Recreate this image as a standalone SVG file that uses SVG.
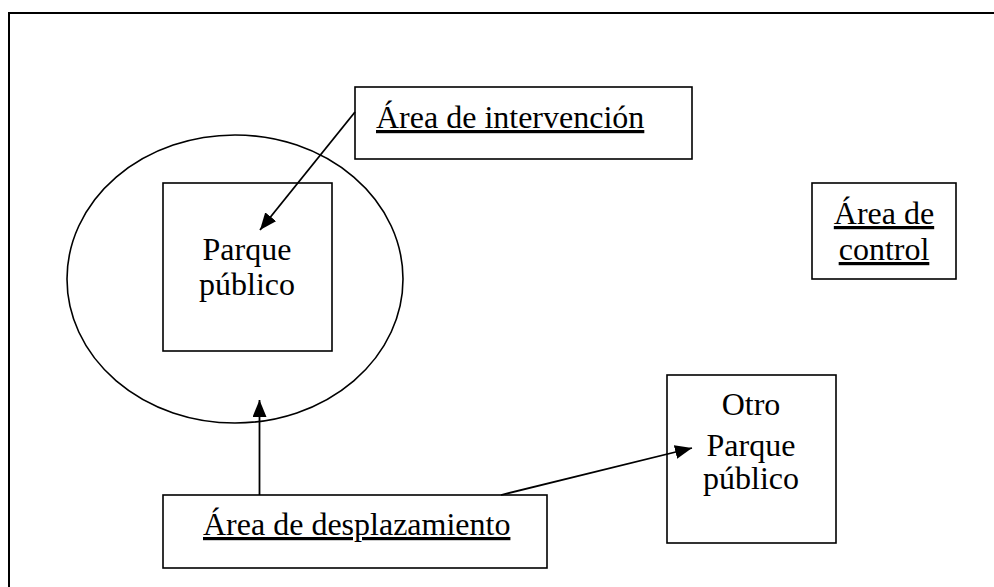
<svg xmlns="http://www.w3.org/2000/svg" width="994" height="587" viewBox="0 0 994 587">
<style>
.box{fill:#fff;stroke:#000;stroke-width:1.6}
.t{font-family:"Liberation Serif","Times New Roman",serif;font-size:32px;fill:#000}
.c{text-anchor:middle}
.u{text-decoration:underline}
.ln{fill:none;stroke:#000;stroke-width:1.8}
</style>
<defs>
<marker id="ah" markerUnits="userSpaceOnUse" markerWidth="18" markerHeight="14" refX="17" refY="7" orient="auto">
<path d="M0,0 L17,7 L0,14 z" fill="#000"/>
</marker>
</defs>
<rect width="994" height="587" fill="#fff"/>
<g id="frame"><path d="M9,587 L9,13 L994,13" fill="none" stroke="#000" stroke-width="2"/></g>
<g id="intervencion-ellipse"><ellipse cx="235" cy="279" rx="168" ry="144" fill="none" stroke="#000" stroke-width="1.6"/></g>
<g id="parque"><rect class="box" x="163" y="183" width="169" height="168"/>
<text class="t c" x="247" y="260">Parque</text><text class="t c" x="247" y="295">público</text></g>
<g id="area-intervencion"><rect class="box" x="355" y="87" width="337" height="72"/>
<text class="t u" x="376" y="128">Área de intervención</text></g>
<g id="area-control"><rect class="box" x="812" y="183" width="144" height="96"/>
<text class="t c u" x="884" y="224">Área de</text><text class="t c u" x="884" y="260">control</text></g>
<g id="otro-parque"><rect class="box" x="667" y="375" width="169" height="168"/>
<text class="t c" x="751" y="415">Otro</text><text class="t c" x="751" y="456">Parque</text><text class="t c" x="751" y="489">público</text></g>
<g id="area-desplazamiento"><rect class="box" x="163" y="495" width="384" height="73"/>
<text class="t u" x="203" y="535">Área de desplazamiento</text></g>
<g id="connectors">
<line class="ln" x1="355" y1="112" x2="260" y2="230" marker-end="url(#ah)"/>
<line class="ln" x1="259.5" y1="495" x2="259.5" y2="400" marker-end="url(#ah)"/>
<line class="ln" x1="501" y1="495" x2="692" y2="448" marker-end="url(#ah)"/>
</g>
</svg>
